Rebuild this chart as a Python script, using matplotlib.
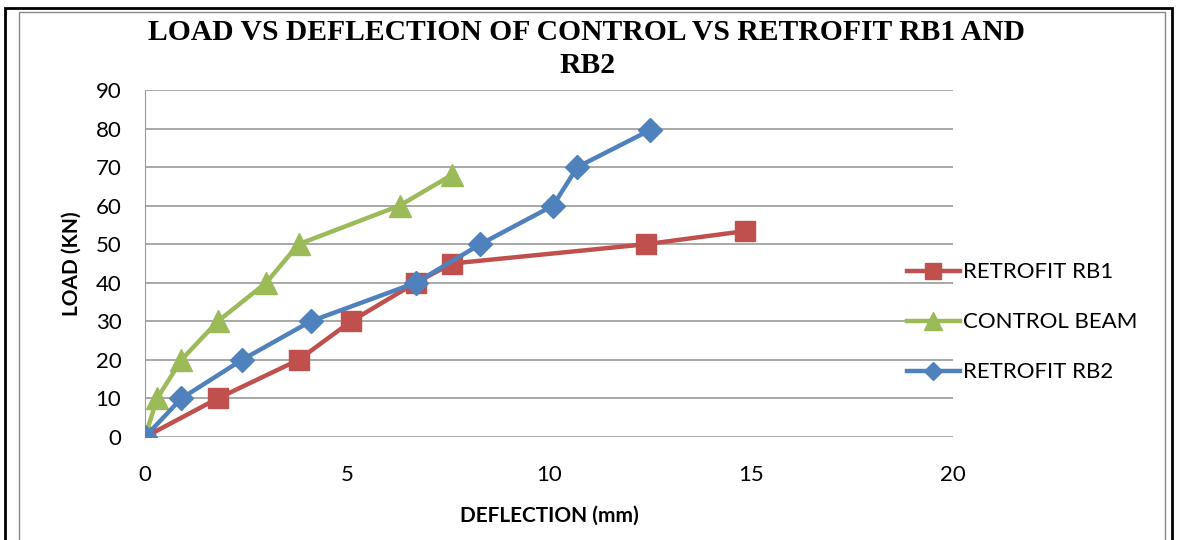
import matplotlib.pyplot as plt
from matplotlib.patches import Rectangle

# deflection (mm) / load (kN)
rb1_defl = [0, 1.8, 3.8, 5.1, 6.7, 7.6, 12.4, 14.85]
rb1_load = [0, 10, 20, 30, 40, 45, 50, 53.4]

ctrl_defl = [0, 0.3, 0.9, 1.8, 3.0, 3.8, 6.3, 7.6]
ctrl_load = [0, 10, 20, 30, 40, 50, 60, 68]

rb2_defl = [0, 0.9, 2.4, 4.1, 6.7, 8.3, 10.1, 10.7, 12.5]
rb2_load = [0, 10, 20, 30, 40, 50, 60, 70, 79.6]

x_ticks = [0, 5, 10, 15, 20]
y_ticks = list(range(0, 91, 10))

W, H = 1181, 540
fig = plt.figure(figsize=(W / 100, H / 100), dpi=100)

# outer frame + inner chart border
fig.patches.append(Rectangle((5 / W, -0.05), (1172 - 5) / W, (H - 8) / H + 0.05,
                             transform=fig.transFigure, fill=False, ec="black", lw=2))
fig.patches.append(Rectangle((19 / W, -0.05), (1165 - 19) / W, (H - 12) / H + 0.05,
                             transform=fig.transFigure, fill=False, ec="#888888", lw=1))

ax = fig.add_axes([145 / W, 1 - 437 / H, (953 - 145) / W, (437 - 90) / H])

ax.plot(rb1_defl, rb1_load, color="#C0504D", lw=3.2, marker="s", ms=15,
        label="RETROFIT RB1", zorder=3)
ax.plot(ctrl_defl, ctrl_load, color="#9BBB59", lw=3.2, marker="^", ms=16,
        label="CONTROL BEAM", zorder=4)
ax.plot(rb2_defl, rb2_load, color="#4F81BD", lw=3.2, marker="D", ms=12,
        label="RETROFIT RB2", zorder=5)

ax.set_xlim(0, 20)
ax.set_ylim(0, 90)
ax.set_xticks(x_ticks)
ax.set_yticks(y_ticks)
ax.tick_params(length=0, labelsize=16)
ax.tick_params(axis="x", pad=20)
ax.tick_params(axis="y", pad=17)
for lbl in ax.get_xticklabels() + ax.get_yticklabels():
    lbl.set_family("Lato")
ax.grid(axis="y", color="#999999", lw=1.2)
ax.set_axisbelow(True)
for s in ["top", "right", "bottom"]:
    ax.spines[s].set_visible(False)
ax.spines["left"].set_color("#999999")

ax.set_xlabel("DEFLECTION (mm)", fontsize=15, fontweight="bold", family="Lato", labelpad=15)
ax.set_ylabel("LOAD (KN)", fontsize=15, fontweight="bold", family="Lato", labelpad=10)

fig.text(587 / W, 1 - 49 / H, "LOAD VS DEFLECTION OF CONTROL VS RETROFIT RB1 AND\nRB2",
         ha="center", va="center", fontsize=21.3, fontweight="bold",
         family="Liberation Serif", linespacing=1.25)

ax.legend(loc="center left", bbox_to_anchor=(0.918, 0.33), frameon=False,
          prop={"family": "Lato", "size": 16}, handlelength=2.4,
          labelspacing=1.35, handletextpad=0.15, markerscale=0.8)

fig.savefig("out.png", dpi=100)
